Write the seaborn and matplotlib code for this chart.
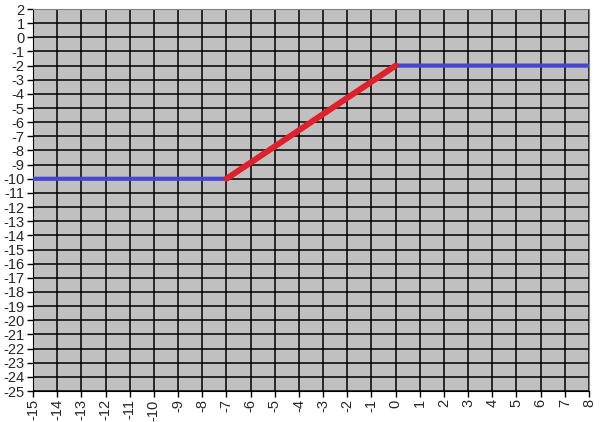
import numpy as np
import pandas as pd
import matplotlib
matplotlib.use("Agg")
import matplotlib.pyplot as plt
import seaborn as sns

# full piecewise curve (blue) and the rising segment (red)
blue_x = [-15, -7, 0, 8]
blue_y = [-10, -10, -2, -2]
red_x = [-7, 0]
red_y = [-10, -2]

x_ticks = list(range(-15, 9))
y_ticks = list(range(-25, 3))

sns.set_style("ticks")
plt.rcParams['font.family'] = ['Liberation Sans', 'DejaVu Sans']

fig = plt.figure(figsize=(6.02, 4.22), dpi=100)
ax = fig.add_axes([33 / 602, 1 - 391 / 422, 556 / 602, 382 / 422])
ax.set_facecolor('#c0c0c0')

blue = pd.DataFrame({'x': blue_x, 'y': blue_y})
red = pd.DataFrame({'x': red_x, 'y': red_y})
sns.lineplot(data=blue, x='x', y='y', color='#4646d2', linewidth=3, ax=ax,
             sort=False, zorder=3)
sns.lineplot(data=red, x='x', y='y', color='#e0202c', linewidth=4.3, ax=ax,
             sort=False, zorder=4)

ax.set_xlim(-15, 8)
ax.set_ylim(-25, 2)
ax.set_xticks(x_ticks)
ax.set_yticks(y_ticks)
ax.set_xticklabels([str(v) for v in x_ticks], rotation=90, fontsize=10.5)
ax.set_yticklabels([str(v) for v in y_ticks], fontsize=10.5)
ax.grid(True, color='black', linewidth=1.1)
ax.set_axisbelow(True)
ax.tick_params(axis='both', length=4, width=1, color='black', pad=2)
ax.set_xlabel('')
ax.set_ylabel('')
for side in ['top', 'right']:
    ax.spines[side].set_color('#808080')
for side in ['left', 'bottom']:
    ax.spines[side].set_color('black')

fig.savefig('out.png', dpi=100)
